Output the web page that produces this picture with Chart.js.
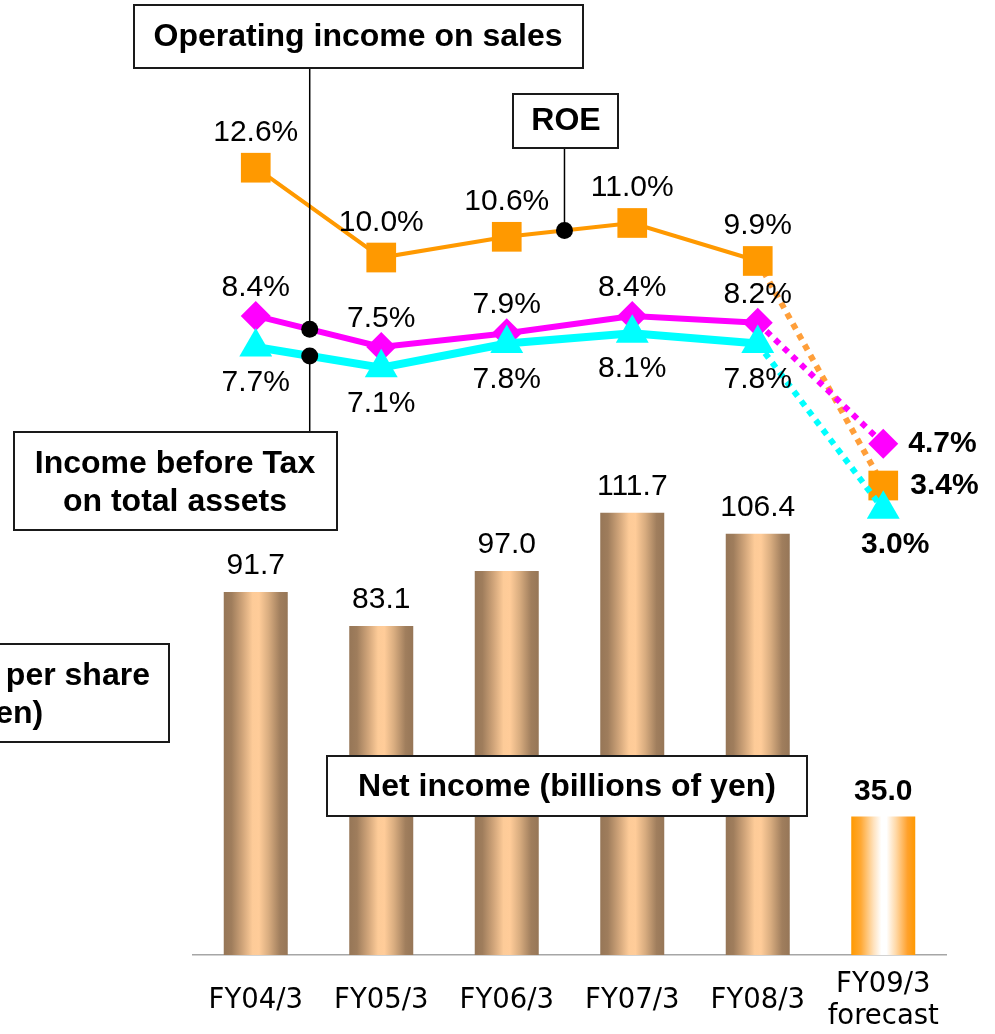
<!DOCTYPE html>
<html>
<head>
<meta charset="utf-8">
<script src="https://cdn.jsdelivr.net/npm/chart.js@4.4.1/dist/chart.umd.min.js"></script>
<style>
  html, body { margin: 0; padding: 0; background: #fff; }
  canvas { display: block; }
</style>
</head>
<body>
<canvas id="chart" width="995" height="1034"></canvas>
<script>
// values
const categories = ['FY04/3', 'FY05/3', 'FY06/3', 'FY07/3', 'FY08/3', ['FY09/3', 'forecast']];
const netIncome = [91.7, 83.1, 97.0, 111.7, 106.4, 35.0];
const roe = [12.6, 10.0, 10.6, 11.0, 9.9, 3.4];
const operatingMargin = [8.4, 7.5, 7.9, 8.4, 8.2, 4.7];
const pretaxOnAssets = [7.7, 7.1, 7.8, 8.1, 7.8, 3.0];
const forecastIndex = 5;

const FONT = '"Liberation Sans", Arial, sans-serif';
const barPct = 0.51;

const brownStops = [[0, '#967657'], [0.12, '#9f7d5c'], [0.3, '#d2a67b'], [0.45, '#fdcb98'],
  [0.55, '#ffcc99'], [0.7, '#d9ad80'], [0.88, '#a07e5d'], [1, '#967657']];
const forecastStops = [[0, '#ff9900'], [0.15, '#ffa935'], [0.35, '#ffe2bd'], [0.47, '#ffffff'],
  [0.55, '#ffffff'], [0.7, '#ffd8a6'], [0.88, '#ffa12c'], [1, '#ff9900']];

function barFill(ctx) {
  const chart = ctx.chart;
  if (!chart.chartArea || ctx.type !== 'data') return '#d9ad80';
  const xs = chart.scales.x;
  const cx = xs.getPixelForValue(ctx.dataIndex);
  const half = xs.width / categories.length * barPct / 2;
  const g = chart.ctx.createLinearGradient(cx - half, 0, cx + half, 0);
  (ctx.dataIndex === forecastIndex ? forecastStops : brownStops).forEach(([o, c]) => g.addColorStop(o, c));
  return g;
}

function dotted(normal, forecast) {
  return s => s.p1DataIndex === forecastIndex ? forecast : normal;
}

// value labels next to every bar and point
const valueLabels = {
  id: 'valueLabels',
  afterDatasetsDraw(chart) {
    const c = chart.ctx;
    c.save();
    c.fillStyle = '#000';
    c.textBaseline = 'middle';
    chart.data.datasets.forEach((ds, di) => {
      const lab = ds.labelPlace;
      chart.getDatasetMeta(di).data.forEach((el, i) => {
        const fc = i === forecastIndex;
        const p = fc ? lab.forecast : lab.normal;
        c.font = (fc ? 'bold ' : '') + '30px ' + FONT;
        c.textAlign = p.align;
        c.fillText(ds.data[i].toFixed(1) + lab.suffix, el.x + p.dx, el.y + p.dy);
      });
    });
    c.restore();
  }
};

// text boxes with leader lines
const boxes = [
  { rect: [134, 5, 583, 68], lines: ['Operating income on sales'], cx: 358, ys: [37] },
  { rect: [513, 94, 618, 148], lines: ['ROE'], cx: 566, ys: [121] },
  { rect: [14, 432, 337, 530], lines: ['Income before Tax', 'on total assets'], cx: 175, ys: [464, 502] },
  { rect: [-159, 644, 169, 742], lines: ['Earnings per share', '(yen)'], cx: 5, ys: [676, 714] },
  { rect: [327, 756, 807, 816], lines: ['Net income (billions of yen)'], cx: 567, ys: [787] }
];
// dataset, segment start, fraction along segment, leader end y
const leaders = [
  { ds: 1, seg: 0, f: 0.43, toY: 68 },
  { ds: 2, seg: 0, f: 0.43, toY: 432 },
  { ds: 0, seg: 2, f: 0.46, toY: 148 }
];

const callouts = {
  id: 'callouts',
  afterDraw(chart) {
    const c = chart.ctx;
    c.save();
    c.strokeStyle = '#000';
    c.fillStyle = '#000';
    c.lineWidth = 1.5;
    leaders.forEach(l => {
      const pts = chart.getDatasetMeta(l.ds).data;
      const a = pts[l.seg], b = pts[l.seg + 1];
      const x = a.x + (b.x - a.x) * l.f, y = a.y + (b.y - a.y) * l.f;
      c.beginPath();
      c.moveTo(x, y);
      c.lineTo(x, l.toY);
      c.stroke();
      c.beginPath();
      c.arc(x, y, 8.5, 0, Math.PI * 2);
      c.fill();
    });
    boxes.forEach(b => {
      const [x1, y1, x2, y2] = b.rect;
      c.fillStyle = '#fff';
      c.fillRect(x1, y1, x2 - x1, y2 - y1);
      c.lineWidth = 2;
      c.strokeStyle = '#1a1a1a';
      c.strokeRect(x1, y1, x2 - x1, y2 - y1);
      c.fillStyle = '#000';
      c.font = 'bold 32px ' + FONT;
      c.textAlign = 'center';
      c.textBaseline = 'middle';
      b.lines.forEach((t, i) => c.fillText(t, b.cx, b.ys[i]));
    });
    c.restore();
  }
};

new Chart(document.getElementById('chart'), {
  type: 'bar',
  data: {
    labels: categories,
    datasets: [
      {
        type: 'line',
        label: 'ROE',
        data: roe,
        yAxisID: 'yRoe',
        order: 3,
        borderColor: '#ff9900',
        borderWidth: 4,
        pointStyle: 'rect',
        pointRadius: 21,
        pointBackgroundColor: '#ff9900',
        pointBorderWidth: 0,
        segment: {
          borderDash: dotted(undefined, [6, 6]),
          borderWidth: dotted(undefined, 6),
          borderColor: dotted(undefined, '#ff9f3a')
        },
        labelPlace: {
          suffix: '%',
          normal: { dx: 0, dy: -35, align: 'center' },
          forecast: { dx: 27, dy: 0, align: 'left' }
        }
      },
      {
        type: 'line',
        label: 'Operating income on sales',
        data: operatingMargin,
        yAxisID: 'yOp',
        order: 2,
        borderColor: '#ff00ff',
        borderWidth: 6,
        pointStyle: 'rectRot',
        pointRadius: 15,
        pointBackgroundColor: '#ff00ff',
        pointBorderWidth: 0,
        segment: {
          borderDash: dotted(undefined, [6, 6]),
          borderWidth: dotted(undefined, 6)
        },
        labelPlace: {
          suffix: '%',
          normal: { dx: 0, dy: -28, align: 'center' },
          forecast: { dx: 25, dy: 0, align: 'left' }
        }
      },
      {
        type: 'line',
        label: 'Income before Tax on total assets',
        data: pretaxOnAssets,
        yAxisID: 'yTax',
        order: 1,
        borderColor: '#00ffff',
        borderWidth: 8,
        pointStyle: 'triangle',
        pointRadius: 19,
        pointBackgroundColor: '#00ffff',
        pointBorderWidth: 0,
        segment: {
          borderDash: dotted(undefined, [6, 6]),
          borderWidth: dotted(undefined, 6)
        },
        labelPlace: {
          suffix: '%',
          normal: { dx: 0, dy: 36, align: 'center' },
          forecast: { dx: 12, dy: 35, align: 'center' }
        }
      },
      {
        type: 'bar',
        label: 'Net income',
        data: netIncome,
        yAxisID: 'y',
        order: 10,
        backgroundColor: barFill,
        borderWidth: 0,
        barPercentage: barPct,
        categoryPercentage: 1,
        labelPlace: {
          suffix: '',
          normal: { dx: 0, dy: -26, align: 'center' },
          forecast: { dx: 0, dy: -25, align: 'center' }
        }
      }
    ]
  },
  options: {
    responsive: false,
    animation: false,
    layout: { autoPadding: false, padding: { top: 5, left: 193, right: 49, bottom: 0 } },
    plugins: { legend: { display: false }, tooltip: { enabled: false } },
    scales: {
      x: {
        offset: true,
        grid: { display: false, drawTicks: false },
        border: { display: true, color: '#a6a6a6', width: 1.5 },
        ticks: {
          color: '#000',
          font: { family: '"DejaVu Sans", sans-serif', size: 27.5, lineHeight: 1.17 },
          padding: 30,
          crossAlign: 'center',
          maxRotation: 0,
          autoSkip: false
        },
        afterFit(s) { s.height = 79; }
      },
      y: { display: false, min: 0, max: 240 },
      yRoe: { display: false, min: -10.19, max: 17.31 },
      yOp: { display: false, min: -10.1, max: 17.4 },
      yTax: { display: false, min: -9.9, max: 17.6 }
    }
  },
  plugins: [valueLabels, callouts]
});
</script>
</body>
</html>
